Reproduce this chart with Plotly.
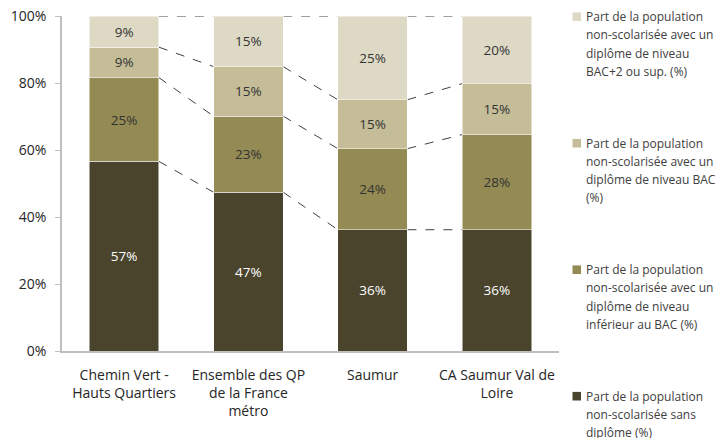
import numpy as np
import plotly.graph_objects as go

# Data (% of non-schooled population)
categories = ["Chemin Vert -<br>Hauts Quartiers", "Ensemble des QP<br>de la France<br>métro",
              "Saumur", "CA Saumur Val de<br>Loire"]
sans_diplome = [56.6, 47.4, 36.2, 36.2]
inf_bac = [25.0, 22.7, 24.2, 28.4]
niveau_bac = [9.1, 14.8, 14.6, 15.2]
bac_plus2 = [9.3, 15.1, 25.0, 20.2]

series_names = [
    "Part de la population<br>non-scolarisée sans<br>diplôme (%)",
    "Part de la population<br>non-scolarisée avec un<br>diplôme de niveau<br>inférieur au BAC (%)",
    "Part de la population<br>non-scolarisée avec un<br>diplôme de niveau BAC<br>(%)",
    "Part de la population<br>non-scolarisée avec un<br>diplôme de niveau<br>BAC+2 ou sup. (%)",
]
tick_vals = [0, 20, 40, 60, 80, 100]
tick_text = ["0%", "20%", "40%", "60%", "80%", "100%"]

colors = ["#4A442D", "#948A54", "#C4BD97", "#DDD9C4"]
text_colors = ["#FFFFFF", "#333333", "#333333", "#333333"]
FONT = "Open Sans"
BAR_WIDTH = 0.56
W, H = 720, 438
ML, MR, MT, MB = 62, 161, 16, 87

fig = go.Figure()
all_series = [sans_diplome, inf_bac, niveau_bac, bac_plus2]
for i, (vals, name) in enumerate(zip(all_series, series_names)):
    fig.add_trace(go.Bar(
        x=categories, y=vals, name=name,
        marker=dict(color=colors[i], line=dict(color="#FFFFFF", width=0.5)),
        width=BAR_WIDTH,
        texttemplate="%{y:.0f}%", textposition="inside", insidetextanchor="middle",
        textangle=0, textfont=dict(family=FONT, size=13.5, color=text_colors[i]),
        showlegend=False, hoverinfo="skip",
    ))

# dashed connectors between neighbouring bars
cum = np.cumsum(np.array(all_series), axis=0)
half = BAR_WIDTH / 2
for level in cum:
    for j in range(len(categories) - 1):
        fig.add_shape(type="line", xref="x", yref="y",
                      x0=j + half, x1=j + 1 - half, y0=level[j], y1=level[j + 1],
                      line=dict(color="#404040", width=1, dash="dash"), layer="below")

# legend drawn by hand (wide line spacing, top series first)
pw, ph = W - ML - MR, H - MT - MB
def px_to_paper(px, py):
    return (px - ML) / pw, (H - MB - py) / ph

for k, i in enumerate(reversed(range(len(all_series)))):
    y_first = 16.7 + 126.5 * k
    x0, y0 = px_to_paper(572.5, y_first - 4.3)
    x1, y1 = px_to_paper(581, y_first + 4.3)
    fig.add_shape(type="rect", xref="paper", yref="paper", x0=x0, x1=x1, y0=y0, y1=y1,
                  fillcolor=colors[i], line=dict(width=0))
    for j, line in enumerate(series_names[i].split("<br>")):
        tx, ty = px_to_paper(584, y_first + 18.2 * j)
        fig.add_annotation(text=line, xref="paper", yref="paper", x=tx, y=ty,
                           xanchor="left", yanchor="middle", showarrow=False,
                           font=dict(family=FONT, size=12, color="#404040"))

fig.update_layout(
    width=W, height=H,
    margin=dict(l=ML, r=MR, t=MT, b=MB, autoexpand=False),
    barmode="stack",
    plot_bgcolor="white", paper_bgcolor="white",
    font=dict(family=FONT, size=14, color="#404040"),
    showlegend=False,
)
fig.update_xaxes(showline=True, linecolor="#BFBFBF", linewidth=1.5, ticks="outside",
                 ticklen=10, tickcolor="rgba(0,0,0,0)", tickfont=dict(size=14, color="#262626"),
                 range=[-0.5, 3.5], automargin=False)
fig.update_yaxes(range=[0, 100], tickvals=tick_vals, ticktext=tick_text, showgrid=False,
                 showline=True, linecolor="#BFBFBF", linewidth=1.5, ticks="outside",
                 ticklen=5, tickcolor="#BFBFBF", tickfont=dict(size=14, color="#262626"),
                 ticklabelstandoff=6, zeroline=False, automargin=False)

# drop the default 8px body margin so the figure fills the window
fig.write_html("out.html", config={"displayModeBar": False},
               post_script="document.body.style.margin='0px';")
